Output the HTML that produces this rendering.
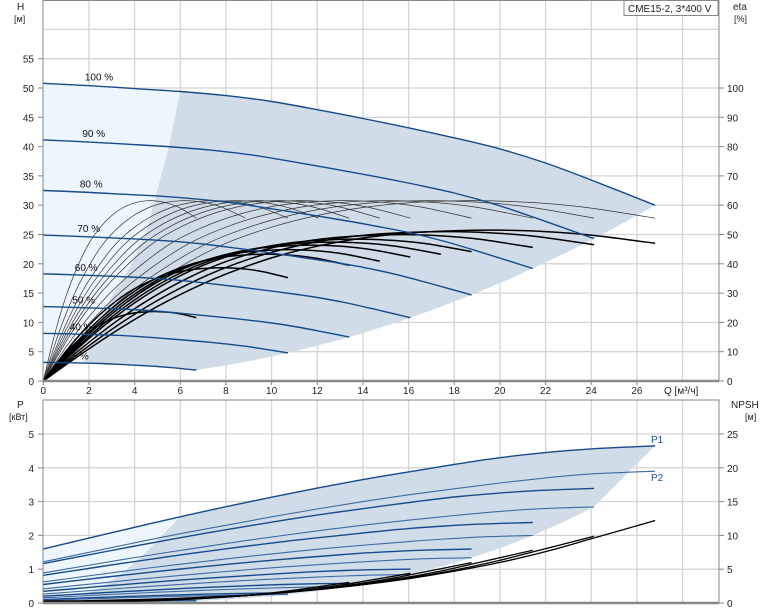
<!DOCTYPE html>
<html><head><meta charset="utf-8"><style>
html,body{margin:0;padding:0;background:#fff;}
svg{display:block;font-family:"Liberation Sans",sans-serif;}
</style></head><body>
<svg id="c" width="774" height="611" viewBox="0 0 774 611" xmlns="http://www.w3.org/2000/svg">
<g id="grid"></g>
<g id="shade"></g>
<g id="curves"></g>
<g id="axes"></g>
<rect x="624" y="0.5" width="94" height="15" fill="#fff" stroke="#888"/>
<text x="628" y="12" font-size="10" fill="#222">CME15-2, 3*400 V</text>
<text x="17" y="10" font-size="10" fill="#222">H</text>
<text x="14" y="22" font-size="9" fill="#222">[м]</text>
<text x="733" y="10" font-size="10" fill="#222">eta</text>
<text x="734" y="22" font-size="9" fill="#222">[%]</text>
<text x="664" y="394" font-size="10" fill="#222">Q [м³/ч]</text>
<text x="17" y="408" font-size="10" fill="#222">P</text>
<text x="9" y="420" font-size="9" fill="#222">[кВт]</text>
<text x="731" y="408" font-size="10" fill="#222">NPSH</text>
<text x="745" y="420" font-size="9" fill="#222">[м]</text>
<text x="651" y="443" font-size="10" fill="#1f4e8c">P1</text>
<text x="651" y="481" font-size="10" fill="#1f4e8c">P2</text>
</svg>
<script>
const qTicks=[0,2,4,6,8,10,12,14,16,18,20,22,24,26];
const hTicks=[0,5,10,15,20,25,30,35,40,45,50,55];
const etaTicks=[0,10,20,30,40,50,60,70,80,90,100];
const pTicks=[0,1,2,3,4,5];
const npshTicks=[0,5,10,15,20,25];
const speeds=[1,0.9,0.8,0.7,0.6,0.5,0.4,0.25];
const speedLabels=["100 %","90 %","80 %","70 %","60 %","50 %","40 %","25 %"];
const q100=[0,2,4,6,8,10,12,14,16,18,20,22,24,26.8];
const h100=[50.8,50.4,49.9,49.4,48.7,47.7,46.3,44.8,43.2,41.5,39.6,37.2,34.3,30.0];
const etaThin100=[0,16,29,39,47,52.5,56.5,59.2,60.8,61.5,61.4,60.6,59,55.6];
const thinSpeeds=[1,0.9,0.8,0.7,0.6,0.55,0.5,0.45,0.4,0.33,0.25];
const etaTot100=[0,11,21,29.5,36.5,42,46,48.8,50.5,51.3,51.5,51,49.8,47];
const totSpeeds=[1,0.9,0.8,0.7,0.65,0.6,0.55,0.5,0.4,0.25];
const totFactors=[1,0.99,0.97,0.94,0.92,0.9,0.87,0.84,0.75,0.46];
const p1_100=[1.6,1.92,2.24,2.55,2.85,3.13,3.4,3.65,3.88,4.1,4.3,4.45,4.56,4.65];
const p2_100=[1.22,1.5,1.78,2.05,2.3,2.55,2.78,3.0,3.2,3.38,3.55,3.7,3.82,3.9];
const npsh100=[0.3,0.35,0.5,0.7,1.0,1.4,2.0,2.7,3.6,4.7,6.0,7.6,9.5,12.2];
const npshSpeeds=[1,0.9,0.8,0.7,0.6,0.5];
const hBoundQ=[6.0,5.5,5.0,4.5,3.8,2.9,1.75];
const hBoundH=[49.4,40,32.6,25.4,19.5,13.8,3.1];
const pBoundQ=[6.0,5.2,4.5,3.5,2.5,1.5,0.8];
const pBoundP=[2.55,2.0,1.5,0.9,0.45,0.15,0.04];

const NS="http://www.w3.org/2000/svg";
const X=q=>43.3+q*22.83, YH=h=>381-h*5.86, YE=e=>381-e*2.93, YP=p=>603-p*33.8, YN=n=>603-n*6.76;
function mk(tag,attrs,parent,name){const e=document.createElementNS(NS,tag);for(const k in attrs)e.setAttribute(k,attrs[k]);


document.getElementById(parent).appendChild(e);return e;}
function smooth(pts){let d="M"+pts[0][0].toFixed(1)+","+pts[0][1].toFixed(1);
for(let i=0;i<pts.length-1;i++){const p0=pts[Math.max(0,i-1)],p1=pts[i],p2=pts[i+1],p3=pts[Math.min(pts.length-1,i+2)];
d+=" C"+(p1[0]+(p2[0]-p0[0])/6).toFixed(1)+","+(p1[1]+(p2[1]-p0[1])/6).toFixed(1)+" "+(p2[0]-(p3[0]-p1[0])/6).toFixed(1)+","+(p2[1]-(p3[1]-p1[1])/6).toFixed(1)+" "+p2[0].toFixed(1)+","+p2[1].toFixed(1);}
return d;}
function poly(pts){return "M"+pts.map(p=>p[0].toFixed(1)+","+p[1].toFixed(1)).join(" L")+"Z";}

for(let q=2;q<=28;q+=2){mk('line',{x1:X(q),x2:X(q),y1:0,y2:381,stroke:'#d4d4d4','stroke-width':1.3},'grid','v-grid-top');
mk('line',{x1:X(q),x2:X(q),y1:400,y2:603,stroke:'#d4d4d4','stroke-width':1.3},'grid','v-grid-bottom');}
for(let h=5;h<=60;h+=5)mk('line',{x1:43,x2:719,y1:YH(h),y2:YH(h),stroke:'#d4d4d4','stroke-width':1.3},'grid','h-grid-top');
for(let p=1;p<=5;p++)mk('line',{x1:43,x2:719,y1:YP(p),y2:YP(p),stroke:'#d4d4d4','stroke-width':1.3},'grid','h-grid-bottom');

const env=[];for(let s=1;s>=0.249;s-=0.05)env.push([X(s*26.8),YH(s*s*30)]);
let g=[];hBoundQ.forEach((q,i)=>g.push([X(q),YH(hBoundH[i])]));
g.reverse();
q100.forEach((q,i)=>{if(q>6)g.push([X(q),YH(h100[i])]);});
env.forEach(p=>g.push(p));
q100.slice().reverse().forEach((q,i)=>{const j=q100.length-1-i;const qq=0.25*q;if(qq>1.75&&qq<6.7)g.push([X(qq),YH(0.0625*h100[j])]);});
let l=[[X(0),YH(h100[0])]];q100.forEach((q,i)=>{if(q<=6)l.push([X(q),YH(h100[i])]);});
hBoundQ.forEach((q,i)=>l.push([X(q),YH(hBoundH[i])]));l.push([X(0),YH(0.0625*h100[0])]);
mk('path',{d:poly(l),fill:'#edf5fd'},'shade','light-area-top');
mk('path',{d:poly(g),fill:'#d0dce8'},'shade','grey-area-top');

let pl=[[X(0),YP(p1_100[0])]];q100.forEach((q,i)=>{if(q<=6)pl.push([X(q),YP(p1_100[i])]);});
pBoundQ.forEach((q,i)=>pl.push([X(q),YP(pBoundP[i])]));pl.push([X(0),YP(0)]);
mk('path',{d:poly(pl),fill:'#edf5fd'},'shade','light-area-bottom');
let pg=[];pBoundQ.forEach((q,i)=>pg.push([X(q),YP(pBoundP[i])]));pg.reverse();
q100.forEach((q,i)=>{if(q>6)pg.push([X(q),YP(p1_100[i])]);});
for(let s=0.9;s>=0.249;s-=0.05)pg.push([X(s*26.8),YP(s*s*s*3.9)]);
mk('path',{d:poly(pg),fill:'#d0dce8'},'shade','grey-area-bottom');

thinSpeeds.forEach(s=>{mk('path',{d:smooth(q100.map((q,i)=>[X(q*s),YE(etaThin100[i])])),fill:'none',stroke:'#333','stroke-width':0.7},'curves','eta-hydraulic-curve');});
totSpeeds.forEach((s,k)=>{mk('path',{d:smooth(q100.map((q,i)=>[X(q*s),YE(etaTot100[i]*totFactors[k])])),fill:'none',stroke:'#000','stroke-width':1.5},'curves','eta-total-curve');});
speeds.forEach((s,k)=>{mk('path',{d:smooth(q100.map((q,i)=>[X(q*s),YH(h100[i]*s*s)])),fill:'none',stroke:'#174a8b','stroke-width':1.4},'curves','h-curve-'+speedLabels[k].replace(' %','pct'));
const t=mk('text',{x:X(0.72+1.1*s),y:YH(h100[0]*s*s)-3,'font-size':10,fill:'#111'},'curves','speed-label');t.textContent=speedLabels[k];});
speeds.forEach(s=>{const c=s*s*s;
mk('path',{d:smooth(q100.map((q,i)=>[X(q*s),YP(p1_100[i]*c)])),fill:'none',stroke:'#174a8b','stroke-width':1.4},'curves','p1-curve');
mk('path',{d:smooth(q100.map((q,i)=>[X(q*s),YP(p2_100[i]*c)])),fill:'none',stroke:'#3d6aa3','stroke-width':1.1},'curves','p2-curve');});
npshSpeeds.forEach(s=>{mk('path',{d:smooth(q100.map((q,i)=>[X(q*s),YN(npsh100[i]*s*s)])),fill:'none',stroke:'#000','stroke-width':1.3},'curves','npsh-curve');});

mk('rect',{x:43,y:0.5,width:676,height:380.5,fill:'none',stroke:'#888','stroke-width':1},'axes','top-plot-frame');
mk('rect',{x:43,y:400,width:676,height:203,fill:'none',stroke:'#888','stroke-width':1},'axes','bottom-plot-frame');
mk('line',{x1:43,x2:719,y1:381,y2:381,stroke:'#888','stroke-width':2.5},'axes','q-axis-line');
mk('line',{x1:43,x2:719,y1:603,y2:603,stroke:'#888','stroke-width':2.5},'axes','q-axis-line-bottom');
qTicks.forEach(q=>{const t=mk('text',{x:X(q),y:394,'font-size':10,'text-anchor':'middle',fill:'#222'},'axes','q-tick-label');t.textContent=q;
mk('line',{x1:X(q),x2:X(q),y1:381,y2:385,stroke:'#888'},'axes','q-tick');});
hTicks.forEach(h=>{const t=mk('text',{x:34,y:YH(h)+4,'font-size':10,'text-anchor':'end',fill:'#222'},'axes','h-tick-label');t.textContent=h;
mk('line',{x1:38,x2:43,y1:YH(h),y2:YH(h),stroke:'#888'},'axes','h-tick');});
etaTicks.forEach(e=>{const t=mk('text',{x:727,y:YE(e)+4,'font-size':10,fill:'#222'},'axes','eta-tick-label');t.textContent=e;
mk('line',{x1:719,x2:724,y1:YE(e),y2:YE(e),stroke:'#888'},'axes','eta-tick');});
pTicks.forEach(p=>{const t=mk('text',{x:34,y:YP(p)+4,'font-size':10,'text-anchor':'end',fill:'#222'},'axes','p-tick-label');t.textContent=p;
mk('line',{x1:38,x2:43,y1:YP(p),y2:YP(p),stroke:'#888'},'axes','p-tick');});
npshTicks.forEach(n=>{const t=mk('text',{x:727,y:YN(n)+4,'font-size':10,fill:'#222'},'axes','npsh-tick-label');t.textContent=n;
mk('line',{x1:719,x2:724,y1:YN(n),y2:YN(n),stroke:'#888'},'axes','npsh-tick');});
</script>
</body></html>
